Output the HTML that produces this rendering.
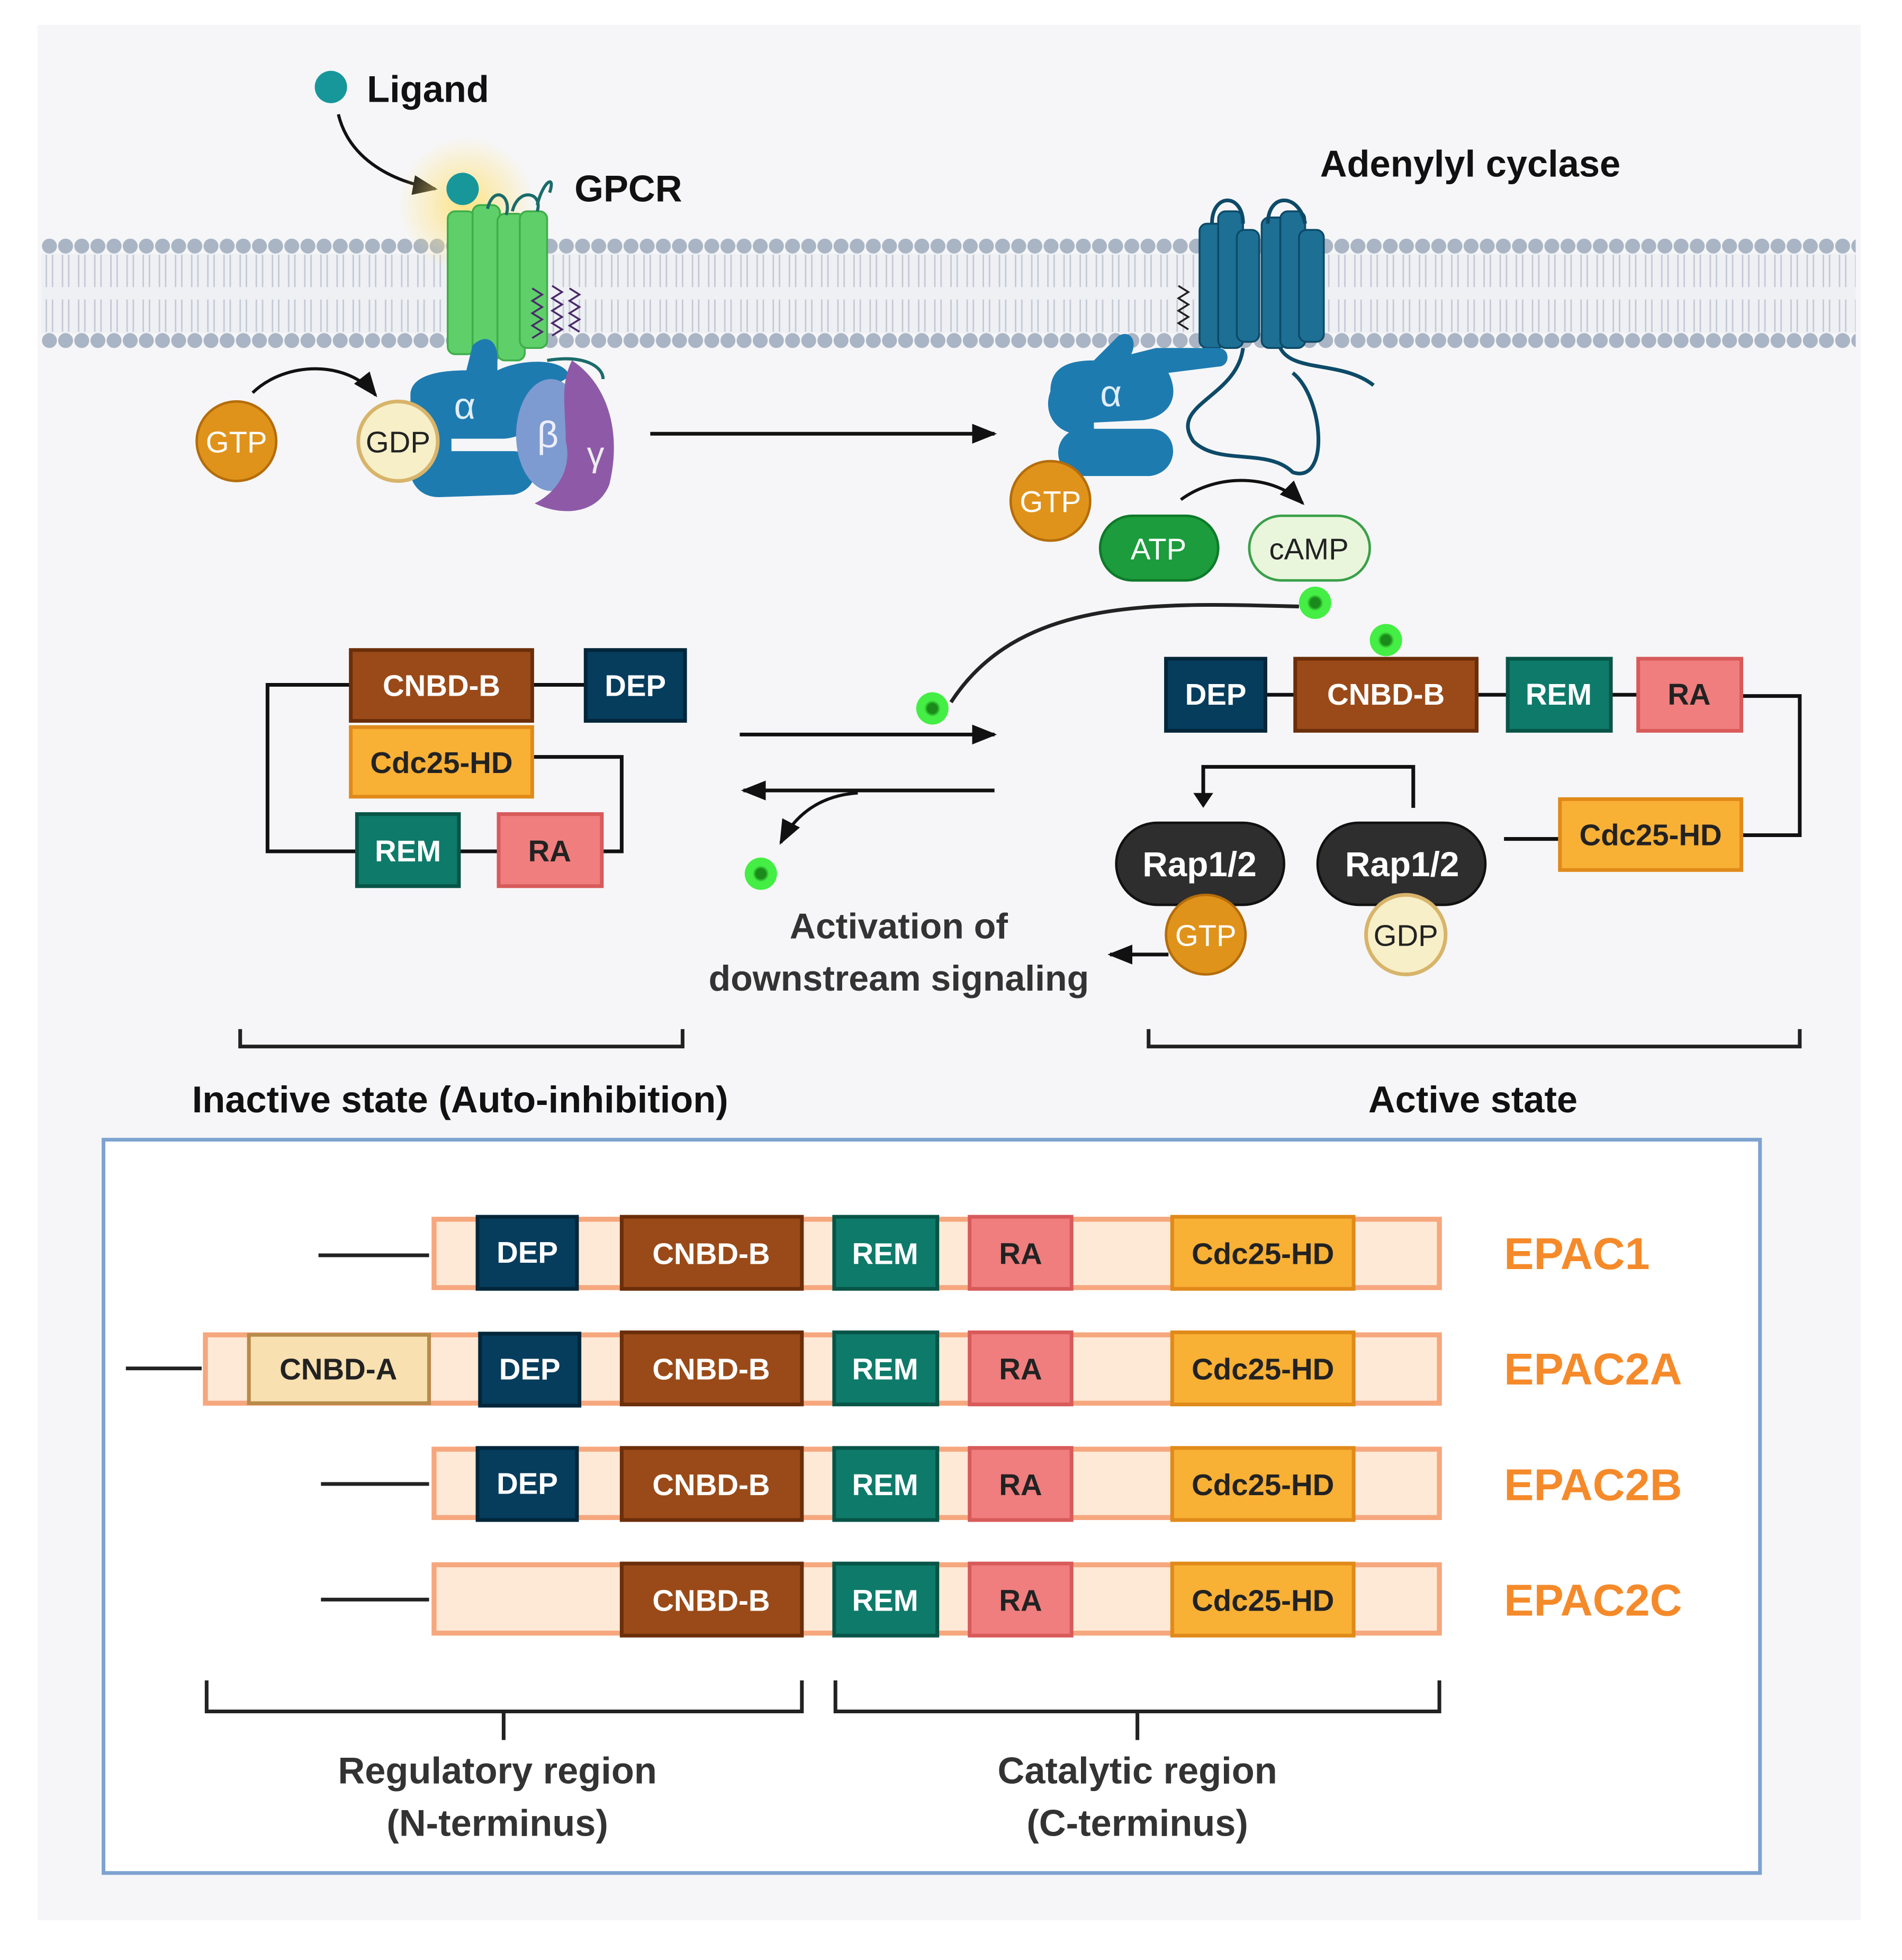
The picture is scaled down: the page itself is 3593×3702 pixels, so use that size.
<!DOCTYPE html>
<html><head><meta charset="utf-8"><style>
html,body{margin:0;padding:0;background:#fff}
svg{display:block}
text{font-family:"Liberation Sans",sans-serif;font-weight:bold}
text.n{font-weight:normal}
</style></head><body>
<svg width="3593" height="3702" viewBox="0 0 1530 1577" xmlns="http://www.w3.org/2000/svg">
<defs>
<marker id="ah2" markerWidth="20" markerHeight="20" refX="18" refY="10" orient="auto" markerUnits="userSpaceOnUse"><path d="M0,2 L20,10 L0,18 z" fill="#111"/></marker>
<radialGradient id="glow"><stop offset="0" stop-color="#ffe27a" stop-opacity="0.9"/><stop offset="1" stop-color="#ffe27a" stop-opacity="0"/></radialGradient>
<radialGradient id="gd"><stop offset="0.3" stop-color="#1a8a1a"/><stop offset="0.5" stop-color="#44ee44"/></radialGradient>
<pattern id="p1" x="33" y="191" width="13" height="14" patternUnits="userSpaceOnUse"><circle cx="6.5" cy="7" r="6" fill="#a9b4c4"/></pattern>
<pattern id="p2" x="33" y="267" width="13" height="14" patternUnits="userSpaceOnUse"><circle cx="6.5" cy="7" r="6" fill="#a9b4c4"/></pattern>
<pattern id="p3" x="33" y="205" width="13" height="62" patternUnits="userSpaceOnUse"><path d="M4,0 V26 M9,0 V26 M4,36 V62 M9,36 V62" stroke="#c3cad6" stroke-width="1.2"/></pattern>
</defs>
<rect x="0" y="0" width="1530" height="1577" fill="#fff"/>
<rect x="30" y="20" width="1467" height="1525" fill="#f6f6f8"/>
<rect x="33" y="204" width="1460" height="64" fill="#eef0f4"/>
<rect x="33" y="191" width="1460" height="14" fill="url(#p1)"/>
<rect x="33" y="205" width="1460" height="62" fill="url(#p3)"/>
<rect x="33" y="267" width="1460" height="14" fill="url(#p2)"/>

<circle cx="266" cy="70" r="13" fill="#17979a"/>
<text x="295" y="82" font-size="30" fill="#111">Ligand</text>
<path d="M272,92 C280,125 310,145 350,152" fill="none" stroke="#111" stroke-width="2.5" marker-end="url(#ah2)"/>
<circle cx="375" cy="165" r="55" fill="url(#glow)"/>
<g fill="#5fcf6a" stroke="#3fae4a" stroke-width="1.5">
<rect x="360" y="170" width="22" height="115" rx="6"/>
<rect x="380" y="165" width="22" height="125" rx="6"/>
<rect x="400" y="172" width="22" height="118" rx="6"/>
<rect x="418" y="170" width="22" height="110" rx="6"/>
</g>
<path d="M392,168 c5,-20 20,-10 15,5 M412,170 c5,-20 25,-15 20,0 M432,165 c5,-20 15,-25 10,-10" fill="none" stroke="#1b6b6a" stroke-width="2.5"/>
<circle cx="372" cy="152" r="13" fill="#17979a"/>
<text x="462" y="162" font-size="30" fill="#111">GPCR</text>
<path d="M428,232 l8,5 l-8,5 l8,5 l-8,5 l8,5 l-8,5 l8,5 l-8,5 M444,230 l8,5 l-8,5 l8,5 l-8,5 l8,5 l-8,5 l8,5 l-8,5 M458,232 l8,5 l-8,5 l8,5 l-8,5 l8,5 l-8,5 l8,5" fill="none" stroke="#4a2a6a" stroke-width="1.5"/>
<path d="M440,290 c30,-5 45,5 45,15" fill="none" stroke="#1b6b6a" stroke-width="2.5"/>
<path d="M330,318 c0,-15 20,-20 45,-20 l5,-20 c10,-10 20,-5 20,10 l0,10 c20,-10 55,-10 58,5 l-25,15 c5,20 -10,35 -30,35 l-40,0 l0,10 l50,0 c20,0 25,30 0,35 l-60,2 c-25,0 -30,-30 -15,-40 c-8,-10 -8,-25 -8,-32z" fill="#1e7bb0"/>
<text class="n" x="365" y="337" font-size="30" fill="#dfeefa">α</text>
<ellipse cx="443" cy="350" rx="28" ry="45" fill="#7d9bd0"/>
<text class="n" x="432" y="360" font-size="30" fill="#eef">β</text>
<path d="M460,290 c30,20 40,60 30,100 c-10,25 -40,25 -60,15 c20,-10 30,-30 25,-50 c0,-25 -5,-45 5,-65z" fill="#8e5aa8"/>
<text class="n" x="472" y="375" font-size="28" fill="#eee">γ</text>
<circle cx="190" cy="355" r="32" fill="#e0931b" stroke="#b56d0a" stroke-width="2"/>
<text class="n" x="190" y="364" font-size="24" fill="#fff" text-anchor="middle">GTP</text>
<circle cx="320" cy="355" r="32" fill="#f7efc8" stroke="#d8b46a" stroke-width="3"/>
<text class="n" x="320" y="364" font-size="24" fill="#222" text-anchor="middle">GDP</text>
<path d="M203,316 C230,290 280,290 302,318" fill="none" stroke="#111" stroke-width="2.5" marker-end="url(#ah2)"/>
<line x1="523" y1="349" x2="800" y2="349" stroke="#111" stroke-width="3" marker-end="url(#ah2)"/>

<text x="1062" y="142" font-size="30" fill="#111">Adenylyl cyclase</text>
<g fill="#1d6f94" stroke="#0d4a68" stroke-width="1.5">
<rect x="965" y="180" width="20" height="100" rx="6"/>
<rect x="980" y="170" width="20" height="110" rx="6"/>
<rect x="995" y="185" width="18" height="90" rx="6"/>
<rect x="1015" y="175" width="20" height="105" rx="6"/>
<rect x="1030" y="170" width="20" height="110" rx="6"/>
<rect x="1045" y="185" width="20" height="90" rx="6"/>
</g>
<path d="M975,180 c0,-25 25,-25 25,0 M1020,180 c0,-25 25,-25 30,0" fill="none" stroke="#0d4a68" stroke-width="3"/>
<path d="M948,230 l8,5 l-8,5 l8,5 l-8,5 l8,5 l-8,5 l8,5" fill="none" stroke="#222" stroke-width="1.5"/>
<path d="M1000,280 c-5,40 -60,45 -40,75 c20,20 60,5 80,25 c30,10 25,-60 0,-80 M1030,280 c10,20 50,10 75,30" fill="none" stroke="#0d4a68" stroke-width="3"/>
<path d="M845,315 c0,-20 15,-25 35,-25 l20,-20 c10,-5 15,5 10,15 l20,-5 l50,0 c10,0 10,15 0,15 l-40,5 c10,20 0,35 -20,38 l-40,2 l0,5 l45,0 c25,0 25,35 0,38 l-55,0 c-20,0 -25,-25 -10,-35 c-15,-5 -20,-20 -15,-33z" fill="#1e7bb0"/>
<text class="n" x="885" y="327" font-size="30" fill="#dfeefa">α</text>
<circle cx="845" cy="403" r="32" fill="#e0931b" stroke="#b56d0a" stroke-width="2"/>
<text class="n" x="845" y="412" font-size="24" fill="#fff" text-anchor="middle">GTP</text>
<rect x="885" y="415" width="95" height="52" rx="26" fill="#1c9c3c" stroke="#0f7a2a" stroke-width="2"/>
<text class="n" x="932" y="450" font-size="24" fill="#fff" text-anchor="middle">ATP</text>
<rect x="1005" y="415" width="97" height="52" rx="26" fill="#eaf6dc" stroke="#3aa04a" stroke-width="2"/>
<text class="n" x="1053" y="450" font-size="24" fill="#222" text-anchor="middle">cAMP</text>
<path d="M950,402 C980,380 1025,382 1048,405" fill="none" stroke="#111" stroke-width="2.5" marker-end="url(#ah2)"/>

<path d="M765,565 C820,480 930,485 1045,488" fill="none" stroke="#222" stroke-width="3"/>
<circle cx="1058" cy="485" r="13" fill="url(#gd)"/>
<circle cx="1115" cy="515" r="13" fill="url(#gd)"/>
<circle cx="750" cy="570" r="13" fill="url(#gd)"/>
<circle cx="612" cy="703" r="13" fill="url(#gd)"/>
<line x1="595" y1="591" x2="800" y2="591" stroke="#111" stroke-width="3" marker-end="url(#ah2)"/>
<line x1="800" y1="636" x2="598" y2="636" stroke="#111" stroke-width="3" marker-end="url(#ah2)"/>
<path d="M690,638 C660,640 640,655 628,678" fill="none" stroke="#111" stroke-width="2.5" marker-end="url(#ah2)"/>

<g fill="none" stroke="#111" stroke-width="3">
<path d="M282,551 H215 V685 H287"/>
<path d="M428,551 H471"/>
<path d="M428,609 H500 V685 H484"/>
<path d="M369,685 H401"/>
</g>
<g font-size="24" text-anchor="middle">
<rect x="282" y="523" width="146" height="57" fill="#9a4a18" stroke="#6b2e0a" stroke-width="3"/><text x="355" y="560" fill="#fff">CNBD-B</text>
<rect x="471" y="523" width="80" height="57" fill="#063c5c" stroke="#02263a" stroke-width="3"/><text x="511" y="560" fill="#fff">DEP</text>
<rect x="282" y="585" width="146" height="56" fill="#f8b035" stroke="#e08a1a" stroke-width="3"/><text x="355" y="622" fill="#222">Cdc25-HD</text>
<rect x="287" y="655" width="82" height="58" fill="#0e7a6a" stroke="#075548" stroke-width="3"/><text x="328" y="693" fill="#fff">REM</text>
<rect x="401" y="655" width="83" height="58" fill="#f07e7e" stroke="#d85a5a" stroke-width="3"/><text x="442" y="693" fill="#222">RA</text>
</g>

<g fill="none" stroke="#111" stroke-width="3">
<path d="M1018,559 H1042 M1188,559 H1213 M1296,559 H1318"/>
<path d="M1401,560 H1448 V672 H1401"/>
<path d="M1210,675 H1255"/>
<path d="M1137,650 V617 H968 V640"/>
</g>
<path d="M960,638 h16 l-8,12z" fill="#111"/>
<g font-size="24" text-anchor="middle">
<rect x="938" y="530" width="80" height="58" fill="#063c5c" stroke="#02263a" stroke-width="3"/><text x="978" y="567" fill="#fff">DEP</text>
<rect x="1042" y="530" width="146" height="58" fill="#9a4a18" stroke="#6b2e0a" stroke-width="3"/><text x="1115" y="567" fill="#fff">CNBD-B</text>
<rect x="1213" y="530" width="83" height="58" fill="#0e7a6a" stroke="#075548" stroke-width="3"/><text x="1254" y="567" fill="#fff">REM</text>
<rect x="1318" y="530" width="83" height="58" fill="#f07e7e" stroke="#d85a5a" stroke-width="3"/><text x="1359" y="567" fill="#222">RA</text>
<rect x="1255" y="643" width="146" height="57" fill="#f8b035" stroke="#e08a1a" stroke-width="3"/><text x="1328" y="680" fill="#222">Cdc25-HD</text>
</g>
<rect x="898" y="662" width="135" height="66" rx="33" fill="#2e2e2e" stroke="#111" stroke-width="2"/>
<text x="965" y="705" font-size="28" fill="#fff" text-anchor="middle">Rap1/2</text>
<rect x="1060" y="662" width="135" height="66" rx="33" fill="#2e2e2e" stroke="#111" stroke-width="2"/>
<text x="1128" y="705" font-size="28" fill="#fff" text-anchor="middle">Rap1/2</text>
<circle cx="970" cy="752" r="32" fill="#e0931b" stroke="#b56d0a" stroke-width="2"/>
<text class="n" x="970" y="761" font-size="24" fill="#fff" text-anchor="middle">GTP</text>
<circle cx="1131" cy="752" r="32" fill="#f7efc8" stroke="#d8b46a" stroke-width="3"/>
<text class="n" x="1131" y="761" font-size="24" fill="#222" text-anchor="middle">GDP</text>
<line x1="940" y1="768" x2="893" y2="768" stroke="#111" stroke-width="3" marker-end="url(#ah2)"/>
<text x="723" y="755" font-size="29" fill="#333" text-anchor="middle">Activation of</text>
<text x="723" y="797" font-size="29" fill="#333" text-anchor="middle">downstream signaling</text>

<g fill="none" stroke="#222" stroke-width="3">
<path d="M193,828 V842 H549 V828"/>
<path d="M924,828 V842 H1448 V828"/>
</g>
<text x="370" y="895" font-size="30" fill="#111" text-anchor="middle">Inactive state (Auto-inhibition)</text>
<text x="1185" y="895" font-size="30" fill="#111" text-anchor="middle">Active state</text>

<rect x="83" y="917" width="1333" height="590" fill="#fff" stroke="#7ea3d0" stroke-width="3"/>
<g stroke="#222" stroke-width="3">
<line x1="256" y1="1010" x2="345" y2="1010"/>
<line x1="101" y1="1101" x2="162" y2="1101"/>
<line x1="258" y1="1194" x2="345" y2="1194"/>
<line x1="258" y1="1287" x2="345" y2="1287"/>
</g>
<g fill="#fde9d6" stroke="#f6a77e" stroke-width="4">
<rect x="349" y="981" width="809" height="55"/>
<rect x="165" y="1074" width="993" height="55"/>
<rect x="349" y="1166" width="809" height="55"/>
<rect x="349" y="1259" width="809" height="55"/>
</g>
<g font-size="24" text-anchor="middle" stroke-width="3">
<rect x="200" y="1074" width="145" height="55" fill="#f8e0b0" stroke="#b88a4a"/><text x="272" y="1110" fill="#222" stroke="none">CNBD-A</text>
<rect x="384" y="979" width="80" height="58" fill="#063c5c" stroke="#02263a"/><text x="424" y="1016" fill="#fff" stroke="none">DEP</text>
<rect x="386" y="1073" width="80" height="58" fill="#063c5c" stroke="#02263a"/><text x="426" y="1110" fill="#fff" stroke="none">DEP</text>
<rect x="384" y="1165" width="80" height="58" fill="#063c5c" stroke="#02263a"/><text x="424" y="1202" fill="#fff" stroke="none">DEP</text>
</g>
<g font-size="24" text-anchor="middle" stroke-width="3">
<g id="r1">
<rect x="500" y="979" width="145" height="58" fill="#9a4a18" stroke="#6b2e0a"/><text x="572" y="1017" fill="#fff" stroke="none">CNBD-B</text>
<rect x="671" y="979" width="83" height="58" fill="#0e7a6a" stroke="#075548"/><text x="712" y="1017" fill="#fff" stroke="none">REM</text>
<rect x="780" y="979" width="82" height="58" fill="#f07e7e" stroke="#d85a5a"/><text x="821" y="1017" fill="#222" stroke="none">RA</text>
<rect x="943" y="979" width="146" height="58" fill="#f8b035" stroke="#e08a1a"/><text x="1016" y="1017" fill="#222" stroke="none">Cdc25-HD</text>
</g>
<use href="#r1" y="93"/>
<use href="#r1" y="186"/>
<use href="#r1" y="279"/>
</g>
<g font-size="36" fill="#f58a2a">
<text x="1210" y="1021">EPAC1</text>
<text x="1210" y="1114">EPAC2A</text>
<text x="1210" y="1207">EPAC2B</text>
<text x="1210" y="1300">EPAC2C</text>
</g>
<g fill="none" stroke="#222" stroke-width="3">
<path d="M166,1352 V1377 H645 V1352 M405,1377 V1400"/>
<path d="M672,1352 V1377 H1158 V1352 M915,1377 V1400"/>
</g>
<g font-size="30" fill="#333" text-anchor="middle">
<text x="400" y="1435">Regulatory region</text>
<text x="400" y="1477">(N-terminus)</text>
<text x="915" y="1435">Catalytic region</text>
<text x="915" y="1477">(C-terminus)</text>
</g>
</svg>
</body></html>
